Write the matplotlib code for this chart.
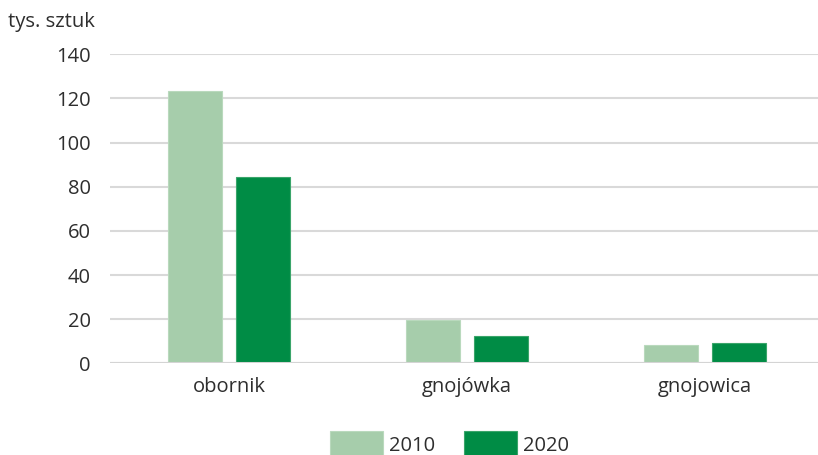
import matplotlib
matplotlib.use("Agg")
import matplotlib.pyplot as plt
import numpy as np

categories = ["obornik", "gnojówka", "gnojowica"]
series_names = ["2010", "2020"]
values_2010 = [123.4, 19.7, 8.4]
values_2020 = [84.5, 12.2, 9.2]
yticks = [0, 20, 40, 60, 80, 100, 120, 140]

plt.rcParams['font.family'] = ['Open Sans', 'DejaVu Sans']
txt = '#2e2e2e'

W, H = 818, 455
fig = plt.figure(figsize=(W/100, H/100), dpi=100)
ax = fig.add_axes([110/W, (H-363.3)/H, 714/W, 309/H])

x = np.arange(len(categories))
bw = 0.227
off = 0.142
c10 = '#a6cdab'
c20 = '#008c45'
ax.bar(x - off, values_2010, bw, color=c10, edgecolor='#b9d9bd', linewidth=0.8, label=series_names[0], zorder=3)
ax.bar(x + off, values_2020, bw, color=c20, edgecolor='#3aa56a', linewidth=0.8, label=series_names[1], zorder=3)

ax.set_xlim(-0.5, 2.5)
ax.set_ylim(0, 140)
ax.set_yticks(yticks)
ax.set_yticklabels([str(v) for v in yticks])
ax.set_xticks(x)
ax.set_xticklabels(categories)
for s in ax.spines.values():
    s.set_visible(False)
ax.grid(axis='y', color='#d9d9d9', linewidth=1.5, zorder=0)
ax.axhline(0, color='#d4d4d4', linewidth=2.2, zorder=4)
ax.tick_params(axis='both', length=0, labelsize=14.5, colors=txt)
ax.tick_params(axis='y', pad=14)
ax.tick_params(axis='x', pad=10)

fig.text(8/W, 1 - 22/H, "tys. sztuk", fontsize=14.5, color=txt, ha='left', va='center')

leg = fig.legend(loc='upper left', bbox_to_anchor=(330/W, 1 - 431/H), ncol=2, frameon=False,
                 fontsize=14.5, handlelength=2.65, handleheight=1.6, handletextpad=0.3,
                 columnspacing=1.4, borderpad=0, borderaxespad=0, labelcolor=txt)

fig.savefig("out.png", dpi=100)
